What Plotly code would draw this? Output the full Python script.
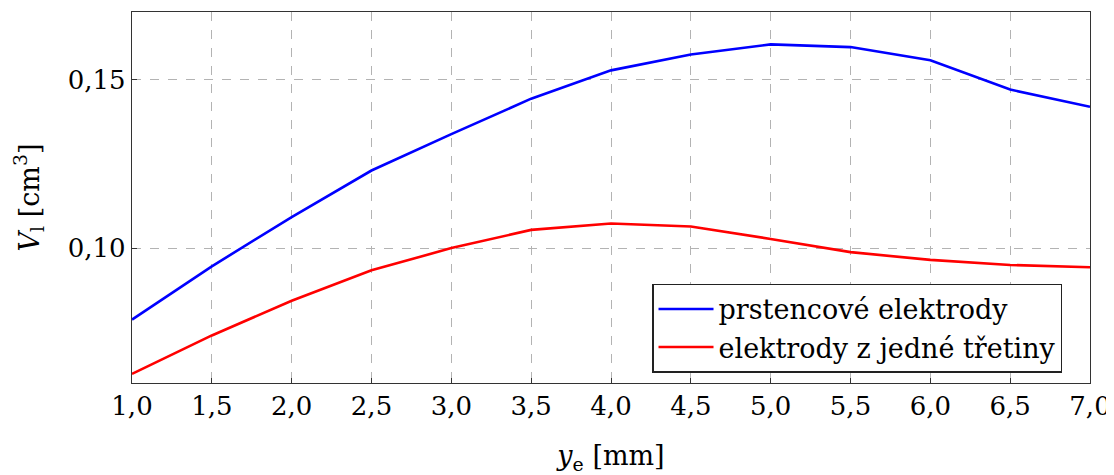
import plotly.graph_objects as go

ye = [1.0, 1.5, 2.0, 2.5, 3.0, 3.5, 4.0, 4.5, 5.0, 5.5, 6.0, 6.5, 7.0]
v_prstencove = [0.0788, 0.0946, 0.1092, 0.1230, 0.1338, 0.1443, 0.1527,
                0.1574, 0.1604, 0.1596, 0.1557, 0.1470, 0.1419]
v_tretina = [0.0627, 0.0741, 0.0844, 0.0934, 0.1000, 0.1054, 0.1073,
             0.1064, 0.1027, 0.0988, 0.0965, 0.0950, 0.0943]
name_blue = "prstencové elektrody"
name_red = "elektrody z jedné třetiny"
x_ticks = [1.0, 1.5, 2.0, 2.5, 3.0, 3.5, 4.0, 4.5, 5.0, 5.5, 6.0, 6.5, 7.0]
y_ticks = [0.10, 0.15]

FONT = "DejaVu Serif"

fig = go.Figure()
fig.add_trace(go.Scatter(x=ye, y=v_prstencove, mode="lines", name=name_blue,
                         line=dict(color="#0000ff", width=2.6)))
fig.add_trace(go.Scatter(x=ye, y=v_tretina, mode="lines", name=name_red,
                         line=dict(color="#ff0000", width=2.6)))

fig.update_layout(
    template="none",
    width=1106, height=467,
    margin=dict(l=124, r=24, t=4, b=92),
    paper_bgcolor="white", plot_bgcolor="white",
    separators=", ",
    font=dict(family=FONT, size=27, color="black"),
    showlegend=True,
    legend=dict(x=0.971, y=0.028, xanchor="right", yanchor="bottom",
                bgcolor="white", bordercolor="#222", borderwidth=1.3,
                font=dict(family=FONT, size=27, color="black"),
                tracegroupgap=0, itemwidth=55),
)
fig.update_xaxes(
    range=[1.0, 7.0], tickvals=x_ticks, tickformat=".1f",
    tickfont=dict(size=26),
    showgrid=True, gridcolor="#b3b3b3", griddash="dash", gridwidth=1,
    showline=True, mirror=True, linecolor="#333", linewidth=1.3,
    ticks="inside", ticklen=5, tickcolor="#333",
    zeroline=False,
    title=dict(text="<i>y</i><sub>e</sub> [mm]", font=dict(size=27), standoff=27),
)
fig.update_yaxes(
    range=[0.06, 0.17], tickvals=y_ticks, tickformat=".2f",
    tickfont=dict(size=26),
    showgrid=True, gridcolor="#b3b3b3", griddash="dash", gridwidth=1,
    showline=True, mirror=True, linecolor="#333", linewidth=1.3,
    ticks="inside", ticklen=5, tickcolor="#333",
    zeroline=False,
    title=dict(text="<i>V</i><sub>l</sub> [cm<sup>3</sup>]", font=dict(size=27), standoff=20),
)

fig.write_html("out.html")
